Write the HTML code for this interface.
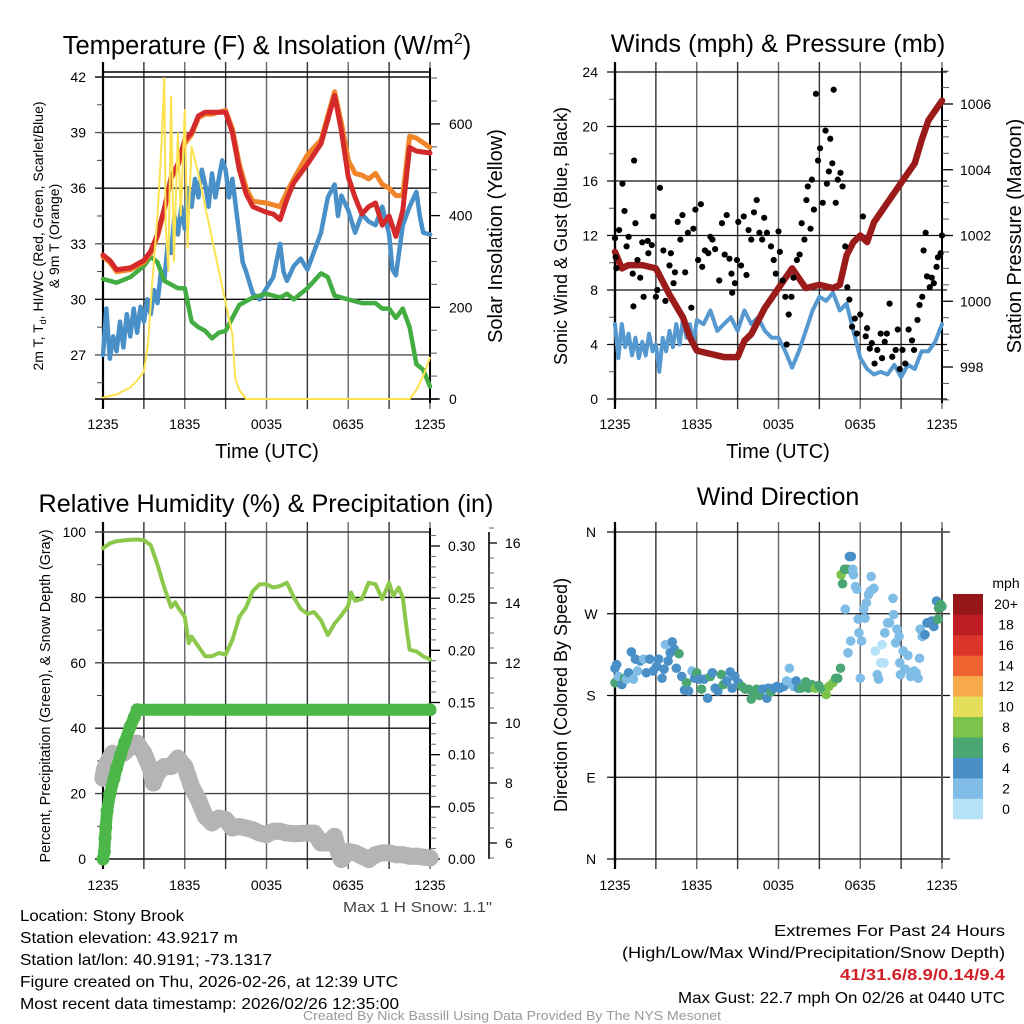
<!DOCTYPE html>
<html><head><meta charset="utf-8"><style>
html,body{margin:0;padding:0;background:#fff;}
svg{display:block;font-family:"Liberation Sans",sans-serif;}
</style></head><body>
<svg id="fig" width="1024" height="1024" viewBox="0 0 1024 1024" xmlns="http://www.w3.org/2000/svg">
<rect width="1024" height="1024" fill="#fff"/>
<text x="267" y="54" font-size="25.5" text-anchor="middle">Temperature (F) &amp; Insolation (W/m<tspan font-size="16" dy="-10">2</tspan><tspan dy="10">)</tspan></text>
<text x="778" y="52" font-size="25.3" text-anchor="middle">Winds (mph) &amp; Pressure (mb)</text>
<text x="266" y="512" font-size="25.2" text-anchor="middle">Relative Humidity (%) &amp; Precipitation (in)</text>
<text x="778" y="505" font-size="25" text-anchor="middle">Wind Direction</text>
<text font-size="20" x="267" y="458" text-anchor="middle">Time (UTC)</text>
<text font-size="20" x="778" y="458" text-anchor="middle">Time (UTC)</text>
<text font-size="14" transform="translate(43,236) rotate(-90)" text-anchor="middle">2m T, T<tspan font-size="9" dy="3">d</tspan><tspan dy="-3">, HI/WC (Red, Green, Scarlet/Blue)</tspan></text>
<text font-size="14" transform="translate(59,236) rotate(-90)" text-anchor="middle">&amp; 9m T (Orange)</text>
<text font-size="20" transform="translate(502,236) rotate(-90)" text-anchor="middle">Solar Insolation (Yellow)</text>
<text font-size="18" transform="translate(567,236) rotate(-90)" text-anchor="middle">Sonic Wind &amp; Gust (Blue, Black)</text>
<text font-size="20" transform="translate(1021,236) rotate(-90)" text-anchor="middle">Station Pressure (Maroon)</text>
<text font-size="14.3" transform="translate(50,696) rotate(-90)" text-anchor="middle">Percent, Precipitation (Green), &amp; Snow Depth (Gray)</text>
<text font-size="18" transform="translate(567,695) rotate(-90)" text-anchor="middle">Direction (Colored By Speed)</text>
<text font-size="15" x="343" y="912" textLength="149" lengthAdjust="spacingAndGlyphs" fill="#444">Max 1 H Snow: 1.1"</text>
<g font-size="16">
<text x="20" y="921" textLength="164" lengthAdjust="spacingAndGlyphs">Location: Stony Brook</text>
<text x="20" y="943" textLength="218" lengthAdjust="spacingAndGlyphs">Station elevation: 43.9217 m</text>
<text x="20" y="965" textLength="252" lengthAdjust="spacingAndGlyphs">Station lat/lon: 40.9191; -73.1317</text>
<text x="20" y="987" textLength="378" lengthAdjust="spacingAndGlyphs">Figure created on Thu, 2026-02-26, at 12:39 UTC</text>
<text x="20" y="1009" textLength="379" lengthAdjust="spacingAndGlyphs">Most recent data timestamp: 2026/02/26 12:35:00</text>
</g>
<g font-size="16">
<text x="774" y="936" textLength="231" lengthAdjust="spacingAndGlyphs">Extremes For Past 24 Hours</text>
<text x="622" y="958" textLength="383" lengthAdjust="spacingAndGlyphs">(High/Low/Max Wind/Precipitation/Snow Depth)</text>
<text x="840" y="980" textLength="165" lengthAdjust="spacingAndGlyphs" fill="#d21f26" font-weight="bold">41/31.6/8.9/0.14/9.4</text>
<text x="678" y="1003" textLength="327" lengthAdjust="spacingAndGlyphs">Max Gust: 22.7 mph On 02/26 at 0440 UTC</text>
</g>
<text x="303" y="1020" font-size="13" textLength="418" lengthAdjust="spacingAndGlyphs" fill="#999">Created By Nick Bassill Using Data Provided By The NYS Mesonet</text>
</svg>
<script>
// ---------- Temperature panel data ----------
const tTimes=[0,0.5,1,2,3,3.5,4,4.5,5,5.5,6,6.5,7,7.5,8,9,9.5,10,10.5,11,12,12.5,13,13.5,14,15,16,16.5,17,17.5,18,18.5,19,19.5,20,20.5,21,21.5,22,22.5,23,24];
const tempRed=[32.4,32.1,31.6,31.7,32.1,32.6,33.5,34.9,36.6,37.3,38.6,39.0,39.9,40.1,40.1,40.1,39.0,37.0,35.7,35.0,34.7,34.6,34.3,35.4,36.3,37.3,38.4,39.7,41.0,39.1,36.6,35.5,34.6,35.0,35.2,34.0,34.5,33.4,34.8,38.2,38.0,37.9];
const temp9m=[32.3,32.0,31.5,31.6,32.0,32.5,33.4,34.8,36.5,37.2,38.4,38.9,39.8,40.0,40.0,40.2,39.2,37.3,36.0,35.3,35.2,35.1,35.0,35.8,36.5,37.8,38.6,39.9,41.2,39.5,37.5,36.8,36.7,36.5,36.8,36.2,36.0,35.6,35.6,38.8,38.7,38.2];
const wcTimes=[0,0.25,0.5,0.75,1,1.25,1.5,1.75,2,2.25,2.5,2.75,3,3.25,3.5,3.75,4,4.25,4.5,4.75,5,5.25,5.5,5.75,6,6.25,6.5,6.75,7,7.25,7.5,7.75,8,8.25,8.5,8.75,9,9.25,9.5,9.75,10,10.25,10.5,11,11.5,12,12.5,13,13.25,13.5,14,14.5,15,15.5,16,16.5,17,17.25,17.5,18,18.5,19,19.5,20,20.5,21,21.25,21.5,22,22.5,23,23.25,23.5,24];
const windChill=[27.0,29.5,26.8,28.0,27.2,28.8,27.4,29.2,28.0,29.5,28.2,29.6,28.8,30.0,29.2,30.5,29.8,31.5,31.0,33.0,32.5,34.5,33.5,35.0,33.8,36.0,35.0,36.5,35.5,37.0,36.2,35.0,36.8,35.5,36.5,37.5,37.0,35.5,36.5,35.0,33.5,32.0,31.5,30.3,30.0,30.6,31.2,33.0,31.5,31.0,31.8,32.2,31.6,32.6,33.6,35.5,36.2,34.5,35.6,34.8,33.6,34.6,34.2,34.0,35.0,33.5,31.6,31.3,34.0,35.0,35.8,34.5,33.6,33.5];
const dTimes=[0,1,2,3,3.5,4,4.5,5,5.5,6,6.5,7,7.5,8,8.5,9,9.5,10,11,12,13,13.5,14,15,16,16.5,17,18,19,20,20.5,21,21.5,22,22.5,23,23.5,24];
const dewpoint=[31.1,30.9,31.2,31.8,32.3,32.0,31.0,30.8,30.6,30.6,28.8,28.5,28.3,27.9,28.2,28.3,29.0,29.7,30.1,30.3,30.1,30.3,30.0,30.6,31.4,31.2,30.2,30.0,29.8,29.8,29.5,29.5,29.0,29.5,28.5,26.5,26.2,25.3];
const solTimes=[0,1,2,2.5,3,3.3,3.6,4,4.3,4.5,4.6,4.8,5,5.2,5.5,5.7,6,6.2,6.5,7,8,9,9.5,9.7,10,10.5,22.5,23,23.5,24];
const insolation=[3,10,25,40,60,120,250,400,560,700,380,280,660,300,580,400,630,330,550,490,350,210,140,45,20,0,0,20,50,90];
const tempTicks=[27,30,33,36,39,42];
const solTicks=[0,200,400,600];
const timeLabels=["1235","1835","0035","0635","1235"];
// ---------- Winds panel data ----------
const wTimes=[0,0.25,0.5,0.75,1,1.25,1.5,1.75,2,2.25,2.5,2.75,3,3.25,3.5,3.75,4,4.25,4.5,4.75,5,5.25,5.5,5.75,6,6.5,7,7.5,8,8.5,9,9.5,10,10.5,11,11.5,12,12.5,13,13.5,14,14.5,15,15.5,16,16.5,17,17.5,18,18.5,19,19.5,20,20.5,21,21.5,22,22.5,23,23.5,24];
const windSpeed=[5.5,3.0,5.5,3.8,4.8,3.2,4.5,3.0,4.2,3.2,4.8,3.5,4.0,2.0,4.5,3.5,5.0,3.8,5.5,4.0,6.0,4.5,5.5,4.0,5.8,5.5,6.5,5.0,5.5,6.0,5.0,6.5,5.5,6.0,5.0,4.5,4.5,3.5,2.3,3.5,5.0,6.5,7.5,7.2,7.8,6.5,7.0,5.0,3.0,2.2,1.8,2.0,1.8,2.5,1.6,2.5,2.2,3.5,3.5,4.2,5.5];
const pTimes=[0,0.5,1,2,3,3.5,4,5,5.5,6,7,8,9,9.5,10,11,12,13,13.5,14,15,16,16.5,17,17.5,18,18.5,19,20,21,22,22.5,23,24];
const pressure=[1001.5,1001.0,1001.1,1001.1,1001.0,1000.6,1000.2,999.5,998.9,998.5,998.4,998.3,998.3,998.8,999.0,999.8,1000.4,1001.0,1000.7,1000.4,1000.5,1000.4,1000.5,1001.4,1001.8,1002.0,1001.8,1002.4,1003.0,1003.6,1004.2,1004.9,1005.5,1006.1];
const gustTimes=[0,0.05,0.1,0.3,0.55,0.7,0.85,1,1.3,1.4,1.5,1.35,1.65,1.85,2,2.1,2.4,2.45,2.7,2.8,3,3.1,3.3,3.55,3.7,4,4.1,4.3,4.4,4.6,4.8,4.95,5.15,5.35,5.6,5.75,5.9,6.1,6.3,6.4,6.6,6.85,7,7.15,7.35,7.65,7.85,8.05,8.2,8.4,8.55,8.6,8.8,8.95,9.05,9.25,9.45,9.65,9.8,10,10.2,10.4,10.6,10.8,10.95,11.15,11.45,11.65,11.8,12,12.1,12.3,12.5,12.6,12.75,12.95,13.1,13.35,13.55,13.7,13.9,14.05,14.15,14.35,14.45,14.6,14.75,14.9,15.05,15.25,15.45,15.55,15.7,15.8,15.95,16.05,16.2,16.35,16.55,16.7,16.9,17.05,17.2,17.4,17.6,17.75,18,18.2,18.4,18.5,18.7,18.85,19.05,19.25,19.5,19.6,19.8,19.95,20.15,20.35,20.6,20.75,20.9,21.1,21.3,21.55,21.8,21.95,22.2,22.35,22.55,22.65,22.8,22.9,23.1,23.25,23.4,23.6,23.7,23.9,24];
const gusts=[11.8,10.4,9.6,12.4,15.8,13.8,11.2,11.9,9.2,17.5,12.9,6.8,10.2,8.9,11.5,7.5,11.6,10.7,11.3,13.4,7.5,8,15.5,10.9,7.2,9.8,10.7,8.5,9.3,13,11.7,13.5,9.3,12.2,6.7,12.5,13.9,10.2,14.3,9.7,10.9,10.7,11.9,11.7,11,8.7,12.9,10.6,13.5,10.3,9.2,7.8,8.5,10.2,13,9.8,13.4,9.1,12.4,11.7,13.7,14.6,12.2,11.7,13.3,12.2,11.2,10.2,9.2,12.3,10.8,8.7,7.5,4,6.2,7.5,8.9,10.2,10.6,12.9,11.7,14.6,15.6,12.5,16.1,13.9,22.4,17.5,18.4,14.4,19.7,15.8,16.7,19.1,17.3,22.7,14.4,16.1,16.6,15.6,11.2,8.2,7.3,5.3,5.9,4.8,6.2,13.4,4.6,5.2,3.7,4.1,2.6,3.6,4.8,3,4.2,4.8,7,3.1,3.6,5.1,2.2,3.6,2.6,5.1,4.3,3.6,5.8,6.9,7.5,10.9,12.2,9,8.2,8.9,8.5,9.7,10.4,10.7,12];
const windTicks=[0,4,8,12,16,20,24];
const presTicks=[998,1000,1002,1004,1006];
// ---------- Humidity panel data ----------
const rhTimes=[0,0.5,1,2,2.5,3,3.5,4,4.5,5,5.3,5.5,6,6.3,6.5,7,7.5,8,8.5,9,9.5,10,10.5,11,11.5,12,12.5,13,13.5,14,14.5,15,15.5,16,16.5,17,17.5,18,18.2,18.5,19,19.5,20,20.5,21,21.3,21.7,22,22.3,22.5,23,23.5,24];
const humidity=[95,96.5,97.2,97.6,97.7,97.5,96,90,83,77,78.5,77,74,66,68,65,62,62,63,62.5,67,74,77,82,84,84,83,83.5,84.5,80,76.5,75,75.5,73,68.5,72,74.5,77.5,81.5,79,79.5,84.5,84,79.5,84.5,80.5,83,80,70,64,63.5,62,61];
const prTimes=[0,0.1,0.15,0.2,0.3,0.5,0.8,1,1.3,1.6,2,2.3,2.5,24];
const precip=[0,0.007,0.02,0.03,0.046,0.062,0.077,0.087,0.1,0.112,0.127,0.136,0.143,0.143];
const snTimes=[0,0.1,0.3,0.7,1,1.5,2,2.5,3,3.5,3.7,4,4.5,5,5.5,6,6.5,7,7.5,8,8.5,9,9.5,10,10.5,11,11.5,12,12.5,13,13.5,14,15,15.5,16,16.5,17,17.3,17.5,18,18.5,19,19.5,20,20.5,21,21.5,22,22.5,23,24];
const snowDepth=[8.16,8.44,8.66,8.99,8.88,8.99,9.21,9.33,8.99,8.44,8.0,8.33,8.55,8.55,8.83,8.55,7.88,7.44,6.89,6.67,6.83,6.78,6.50,6.55,6.50,6.44,6.33,6.28,6.39,6.39,6.33,6.31,6.33,6.33,6.0,6.0,6.22,5.67,5.45,5.72,5.67,5.56,5.45,5.61,5.67,5.67,5.61,5.61,5.56,5.56,5.50];
const rhTicks=[0,20,40,60,80,100];
const prTicks=[0,0.05,0.1,0.15,0.2,0.25,0.3];
const snTicks=[6,8,10,12,14,16];
// ---------- Wind direction data ----------
const dirTimes=[0,0,0.12,0.25,0.5,0.7,0.85,1,1.2,1.35,1.5,1.65,1.85,2.1,2.3,2.55,2.8,3.05,3.2,3.45,3.6,3.7,3.9,4.05,4.2,4.35,4.5,4.7,4.9,5.1,5.25,5.4,5.65,5.85,6,6.2,6.35,6.55,6.8,7,7.15,7.35,7.55,7.8,7.95,8.2,8.45,8.6,8.8,9.05,9.3,9.55,9.8,10,10.15,10.4,10.6,10.85,11.15,11.25,11.45,11.65,11.9,12.1,12.4,12.6,12.8,12.95,13.1,13.3,13.45,13.65,14,14.2,14.45,14.7,14.95,15.2,15.5,15.7,16,16.2,16.35,16.55,16.6,16.7,16.85,16.9,17.05,17.1,17.2,17.3,17.35,17.45,17.5,17.65,17.75,17.85,17.9,18,18.1,18.25,18.35,18.45,18.6,18.75,18.8,19,19.1,19.25,19.35,19.5,19.6,19.75,19.8,20,20.15,20.4,20.45,20.6,20.7,20.85,20.9,20.95,21.15,21.3,21.5,21.7,21.95,22.1,22.25,22.35,22.4,22.55,22.75,22.9,23.05,23.25,23.4,23.6,23.7,23.75,24,23.9];
const directions=[194,210,214,201,192,199,198,205,228,198,220,207,218,220,205,220,207,212,220,199,209,236,218,227,239,231,210,226,201,186,194,185,207,199,205,198,187,198,177,201,205,188,185,203,192,196,206,188,201,194,190,187,187,176,183,187,180,187,177,188,184,188,190,188,190,196,210,194,190,196,188,188,195,188,192,188,191,187,181,190,194,199,199,210,313,303,319,275,319,227,333,240,333,319,313,300,297,264,249,199,240,275,265,282,291,295,311,298,229,203,198,216,236,216,249,260,260,287,269,238,253,245,216,203,229,209,224,201,207,205,199,221,253,245,247,260,260,262,256,284,264,276,278,280];
const dirSpeeds=[7,5,5,3,5,7,3,5,5,3,5,3,5,3,5,5,5,5,5,5,5,3,5,5,5,5,5,7,5,5,7,5,3,5,7,5,7,5,5,7,5,5,5,7,7,5,5,5,5,5,7,7,7,7,7,7,7,5,5,5,7,5,5,5,5,3,3,3,3,5,5,7,7,7,7,9,7,7,9,9,9,7,7,7,9,7,7,3,7,3,5,3,5,3,3,3,3,3,3,3,3,3,3,3,3,3,3,3,1,3,3,1,1,1,3,3,3,3,3,3,3,3,3,3,3,3,3,3,3,3,3,3,3,3,5,5,5,5,5,5,7,7,7,7,7,7];
const dirTickLabels=["N","E","S","W","N"];
const cbarLabels=["0","2","4","6","8","10","12","14","16","18","20+"];
const cbarColors=["#b5e2f8","#80bde6","#4a8fc6","#4aa672","#7dc24b","#e5de5a","#f6aa4a","#ee6330","#db3529","#bf1d24","#951619"];

const NS="http://www.w3.org/2000/svg";
const svg=document.getElementById('fig');
function mk(parent,tag,attrs,name){
  const el=document.createElementNS(NS,tag);
  for(const k in attrs) el.setAttribute(k,attrs[k]);
  
  
  parent.appendChild(el);
  return el;
}
function txt(parent,x,y,s,anchor,size,name,fill){
  const t=mk(parent,'text',{x:x,y:y,'text-anchor':anchor,'font-size':size,fill:fill||'#000'},name);
  t.textContent=s;
  return t;
}
function line(g,x1,y1,x2,y2,stroke,w,name){
  return mk(g,'line',{x1:x1,y1:y1,x2:x2,y2:y2,stroke:stroke,'stroke-width':w},name);
}
function poly(g,xs,ys,fx,fy,stroke,w,name){
  let d='';
  for(let i=0;i<xs.length;i++) d+=(i?'L':'M')+fx(xs[i]).toFixed(1)+' '+fy(ys[i]).toFixed(1);
  return mk(g,'path',{d:d,fill:'none',stroke:stroke,'stroke-width':w,'stroke-linejoin':'round','stroke-linecap':'round'},name);
}
function timeGrid(g,off,top,bot,labY){
  const X=h=>off+103+h*327/24;
  for(let i=0;i<=8;i++){
    const x=X(i*3);
    line(g,x,top-10,x,bot+10,i==0?'#000':(i%2?'#333':'#666'),i==0?2.2:1.4,'time-gridline');
  }
  for(let i=0;i<timeLabels.length;i++) txt(g,X(i*6),labY,timeLabels[i],'middle',14,'time-tick-label');
  return X;
}

// ===== Panel 1 =====
(function(){
  const g=mk(svg,'g',{},'temperature-panel');
  const yT=t=>77+(42-t)*18.53, yS=w=>399-w*0.4585;
  const X=timeGrid(g,0,72,399,429);
  for(const t of tempTicks){line(g,95,yT(t),430,yT(t),t%6==0?'#111':'#555',1.4,'temp-gridline');txt(g,86,yT(t)+5,String(t),'end',14,'temp-tick-label');}
  for(let t=25.5;t<42;t+=3) line(g,97,yT(t),103,yT(t),'#444',1,'temp-minor-tick');
  line(g,103,72,430,72,'#000',1.4,'frame-top');
  line(g,95,399,438,399,'#000',1.6,'frame-bottom');
  line(g,430,68,430,403,'#000',2,'frame-right');
  for(const s of solTicks){line(g,430,yS(s),440,yS(s),'#000',1.3,'solar-tick');txt(g,449,yS(s)+5,String(s),'start',14,'solar-tick-label');}
  for(let s=50;s<=700;s+=50) if(s%200) line(g,430,yS(s),437,yS(s),'#555',1,'solar-minor-tick');
  poly(g,wcTimes,windChill,X,yT,'#4a90c8',4.5,'windchill-line');
  poly(g,dTimes,dewpoint,X,yT,'#43ad43',4.5,'dewpoint-line');
  poly(g,tTimes,temp9m,X,yT,'#f0852a',5,'temp-9m-line');
  poly(g,tTimes,tempRed,X,yT,'#d42a2a',5,'temp-2m-line');
  poly(g,solTimes,insolation,X,yS,'#fde24f',2,'insolation-line');
})();

// ===== Panel 2 =====
(function(){
  const g=mk(svg,'g',{},'winds-panel');
  const yW=w=>399-w*13.625, yP=p=>104+(1006-p)*32.875;
  const X=timeGrid(g,512,72,399,429);
  for(const w of windTicks){line(g,607,yW(w),947,yW(w),'#111',1.3,'wind-gridline');txt(g,598,yW(w)+5,String(w),'end',14,'wind-tick-label');}
  for(let w=2;w<24;w+=4) line(g,609,yW(w),615,yW(w),'#555',1,'wind-minor-tick');
  line(g,942,68,942,403,'#000',2,'frame-right');
  line(g,615,68,615,403,'#000',2.2,'frame-left');
  for(const p of presTicks){line(g,942,yP(p),953,yP(p),'#000',1.3,'pressure-tick');txt(g,960,yP(p)+5,String(p),'start',14,'pressure-tick-label');}
  for(let p=997;p<=1007;p+=0.5) if(p%2) line(g,942,yP(p),949,yP(p),'#555',1,'pressure-minor-tick');
  poly(g,wTimes,windSpeed,X,yW,'#5599d0',4,'wind-speed-line');
  poly(g,pTimes,pressure,X,yP,'#9b1b1b',6.5,'pressure-line');
  for(let i=0;i<gusts.length;i++){
    mk(g,'circle',{cx:X(gustTimes[i]),cy:yW(gusts[i]),r:3.1,fill:'#000'},'gust-point');
  }
})();

// ===== Panel 3 =====
(function(){
  const g=mk(svg,'g',{},'humidity-panel');
  const yR=r=>859-r*3.27, yPr=v=>859-v*1043.3, ySn=s=>843-(s-6)*30;
  const X=timeGrid(g,0,532,859,890);
  for(const r of rhTicks){line(g,95,yR(r),430,yR(r),r%40==0?'#111':'#444',1.4,'rh-gridline');txt(g,86,yR(r)+5,String(r),'end',14,'rh-tick-label');}
  for(let r=10;r<100;r+=20) line(g,97,yR(r),103,yR(r),'#444',1,'rh-minor-tick');
  line(g,430,528,430,863,'#000',2,'frame-right');
  for(const p of prTicks){line(g,430,yPr(p),440,yPr(p),'#000',1.3,'precip-tick');txt(g,448,yPr(p)+5,p.toFixed(2),'start',14,'precip-tick-label');}
  for(let i=1;i<=31;i++) if(i%5) line(g,430,yPr(i/100),436,yPr(i/100),'#666',1,'precip-minor-tick');
  line(g,489,532,489,859,'#000',1.6,'snow-axis-line');
  for(const s of snTicks){line(g,489,ySn(s),497,ySn(s),'#000',1.3,'snow-tick');txt(g,505,ySn(s)+5,String(s),'start',14,'snow-tick-label');}
  for(let s=5.5;s<=16.5;s+=0.5) if(s%2) line(g,489,ySn(s),494,ySn(s),'#666',1,'snow-minor-tick');
  poly(g,snTimes,snowDepth,X,ySn,'#b4b4b4',17,'snow-depth-band');
  for(let i=0;i<snowDepth.length;i++) mk(g,'circle',{cx:X(snTimes[i]),cy:ySn(snowDepth[i]),r:8.5,fill:'#b4b4b4'},'snow-depth-point');
  poly(g,prTimes,precip,X,yPr,'#4cb648',12,'precip-band');
  for(let i=0;i<precip.length;i++) mk(g,'circle',{cx:X(prTimes[i]),cy:yPr(precip[i]),r:6.5,fill:'#4cb648'},'precip-point');
  poly(g,rhTimes,humidity,X,yR,'#8cc84b',4,'humidity-line');
})();

// ===== Panel 4 =====
(function(){
  const g=mk(svg,'g',{},'wind-direction-panel');
  const yD=d=>859-d*327/360;
  const X=timeGrid(g,512,532,859,890);
  for(let i=0;i<dirTickLabels.length;i++){
    const d=i*90;
    line(g,607,yD(d),950,yD(d),'#111',1.3,'direction-gridline');
    txt(g,591,yD(d)+5,dirTickLabels[i],'middle',14,'direction-tick-label');
  }
  line(g,942,528,942,863,'#555',2,'frame-right');
  line(g,615,528,615,863,'#000',2.2,'frame-left');
  const n=Math.min(dirTimes.length,directions.length);
  for(let i=0;i<n;i++){
    const sp=(dirSpeeds[i]===undefined)?7:dirSpeeds[i];
    const ci=Math.min(10,Math.floor(sp/2));
    mk(g,'circle',{cx:X(dirTimes[i]),cy:yD(directions[i]),r:4.8,fill:cbarColors[ci]},'direction-point');
  }
  const cb=mk(svg,'g',{},'speed-colorbar');
  const bh=225/11;
  for(let i=0;i<11;i++){
    const y=819-(i+1)*bh;
    mk(cb,'rect',{x:953,y:y,width:30,height:bh+0.3,fill:cbarColors[i]},'colorbar-box');
    txt(cb,1006,y+bh/2+5,cbarLabels[i],'middle',14,'colorbar-label');
  }
  txt(cb,1006,588,'mph','middle',14,'colorbar-unit');
})();
</script>
</body></html>
